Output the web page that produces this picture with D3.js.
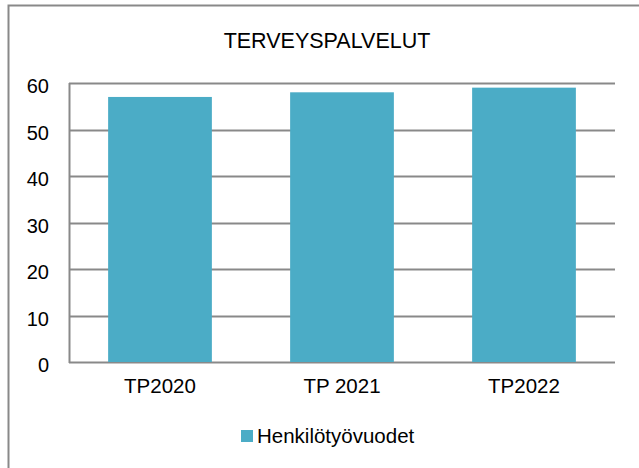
<!DOCTYPE html>
<html>
<head>
<meta charset="utf-8">
<script src="https://cdn.jsdelivr.net/npm/d3@7"></script>
<style>
  body { margin: 0; background: #fff; }
  text { font-family: "Liberation Sans", Arial, sans-serif; fill: #000; }
</style>
</head>
<body>
<script>
// data
var categories = ["TP2020", "TP 2021", "TP2022"];
var values = [57, 58, 59];
var yTicks = [0, 10, 20, 30, 40, 50, 60];
var seriesName = "Henkilötyövuodet";
var chartTitle = "TERVEYSPALVELUT";

var width = 639, height = 468;
var barColor = "#4BACC6", gridColor = "#898989";

var svg = d3.select('body').append('svg')
    .attr('width', width)
    .attr('height', height);

// outer frame (only top and left edges are inside the picture)
svg.append('path')
    .attr('d', 'M8.5,' + height + 'V5.5H' + width)
    .attr('fill', 'none')
    .attr('stroke', gridColor)
    .attr('stroke-width', 2);

svg.append('text')
    .attr('x', 327).attr('y', 48)
    .attr('text-anchor', 'middle')
    .style('font-size', '21.5px')
    .text(chartTitle);

var x = d3.scaleBand().domain(categories).range([69, 615]).paddingInner(0.43).paddingOuter(0.215);
var y = d3.scaleLinear().domain([0, 60]).range([362, 83]);

// gridlines
svg.append('g').selectAll('line')
    .data(yTicks)
    .enter().append('line')
    .attr('x1', 69).attr('x2', 615)
    .attr('y1', function (d) { return Math.round(y(d)) + 0.5; })
    .attr('y2', function (d) { return Math.round(y(d)) + 0.5; })
    .attr('stroke', gridColor)
    .attr('stroke-width', 2);

// y axis line
svg.append('line')
    .attr('x1', 69.5).attr('x2', 69.5)
    .attr('y1', y(60)).attr('y2', y(0) + 1)
    .attr('stroke', gridColor)
    .attr('stroke-width', 2);

svg.append('g').selectAll('text')
    .data(yTicks)
    .enter().append('text')
    .attr('x', 49)
    .attr('y', function (d) { return y(d) + 10; })
    .attr('text-anchor', 'end')
    .style('font-size', '20px')
    .text(function (d) { return d; });

// bars
svg.append('g').selectAll('rect')
    .data(values)
    .enter().append('rect')
    .attr('x', function (d, i) { return x(categories[i]); })
    .attr('width', x.bandwidth())
    .attr('y', function (d) { return y(d); })
    .attr('height', function (d) { return y(0) - y(d); })
    .attr('fill', barColor);

svg.append('g').selectAll('text')
    .data(categories)
    .enter().append('text')
    .attr('x', function (d) { return x(d) + x.bandwidth() / 2; })
    .attr('y', 393)
    .attr('text-anchor', 'middle')
    .style('font-size', '20.5px')
    .text(function (d) { return d; });

// legend
svg.append('rect')
    .attr('x', 241).attr('y', 430)
    .attr('width', 12).attr('height', 12)
    .attr('fill', barColor);
svg.append('text')
    .attr('x', 257).attr('y', 443)
    .style('font-size', '20.5px')
    .text(seriesName);
</script>
</body>
</html>
